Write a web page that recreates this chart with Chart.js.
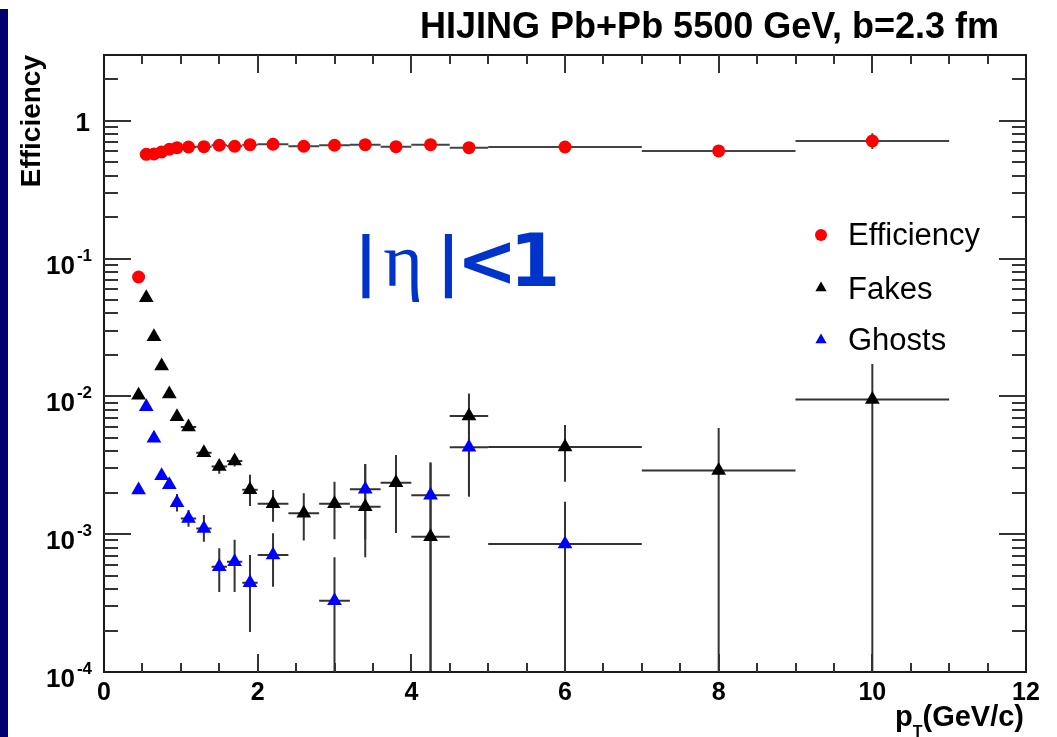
<!DOCTYPE html>
<html>
<head>
<meta charset="utf-8">
<script src="https://cdn.jsdelivr.net/npm/chart.js@4.4.1/dist/chart.umd.min.js"></script>
<style>
  html, body { margin: 0; padding: 0; background: #ffffff; overflow: hidden; }
  canvas { display: block; }
</style>
</head>
<body>
<canvas id="chart" width="1057" height="737"></canvas>
<script>
// pT bins (centre and half width, GeV/c)
const ptCenters = [0.45, 0.55, 0.65, 0.75, 0.85, 0.95, 1.1, 1.3, 1.5, 1.7, 1.9, 2.2, 2.6, 3.0, 3.4, 3.8, 4.25, 4.75, 6, 8, 10];
const ptHalfWidths = [0.05, 0.05, 0.05, 0.05, 0.05, 0.05, 0.1, 0.1, 0.1, 0.1, 0.1, 0.2, 0.2, 0.2, 0.2, 0.2, 0.25, 0.25, 1, 1, 1];

// Efficiency
const effValues = [0.0735, 0.571, 0.574, 0.594, 0.621, 0.638, 0.645, 0.649, 0.664, 0.653, 0.671, 0.675, 0.653, 0.664, 0.671, 0.649, 0.671, 0.638, 0.645, 0.604, 0.713];
const effErrLow = [0.004, 0.005, 0.005, 0.005, 0.005, 0.005, 0.005, 0.005, 0.006, 0.006, 0.006, 0.007, 0.008, 0.009, 0.01, 0.012, 0.015, 0.018, 0.02, 0.03, 0.09];
const effErrHigh = [0.004, 0.005, 0.005, 0.005, 0.005, 0.005, 0.005, 0.005, 0.006, 0.006, 0.006, 0.007, 0.008, 0.009, 0.01, 0.012, 0.015, 0.018, 0.02, 0.03, 0.1];

// Fakes
const fakeValues = [0.0102, 0.052, 0.0271, 0.0166, 0.0104, 0.0071, 0.006, 0.0039, 0.0031, 0.0034, 0.0021, 0.00166, 0.00142, 0.00166, 0.00158, 0.00236, 0.00096, 0.0072, 0.0043, 0.0029, 0.0095];
const fakeErrLow = [0.0003, 0.001, 0.0007, 0.0005, 0.0004, 0.0003, 0.0003, 0.0002, 0.00035, 0.0003, 0.0005, 0.00043, 0.00052, 0.00074, 0.0009, 0.00134, 0.00096, 0.0053, 0.0019, 0.0029, 0.0095];
const fakeErrHigh = [0.0003, 0.001, 0.0007, 0.0005, 0.0004, 0.0003, 0.0003, 0.0002, 0.00025, 0.00025, 0.0006, 0.00043, 0.00056, 0.00074, 0.00165, 0.0014, 0.00231, 0.0033, 0.0019, 0.003, 0.0077];

// Ghosts (null = no entry)
const ghostValues = [0.00209, 0.00842, 0.00497, 0.00266, 0.00228, 0.00169, 0.0013, 0.0011, 0.00058, 0.00063, 0.000445, 0.000706, null, 0.000329, 0.00212, null, 0.00192, 0.00427, 0.000849, null, null];
const ghostErrLow = [0.0001, 0.0003, 0.0002, 0.00015, 0.00015, 0.00023, 0.00017, 0.00022, 0.0002, 0.00025, 0.00025, 0.00029, 0, 0.000329, 0.0012, 0, 0.00192, 0.0024, 0.000849, 0, 0];
const ghostErrHigh = [0.0001, 0.0003, 0.0002, 0.00015, 0.00015, 0.00027, 0.0002, 0.00028, 0.00021, 0.00028, 0.00026, 0.00031, 0, 0.00035, 0.0011, 0, 0.0014, 0.003, 0.00087, 0, 0];

// axis ticks
const xMajorTicks = [0, 2, 4, 6, 8, 10, 12];
const yDecades = [1e-4, 1e-3, 1e-2, 1e-1, 1];
const yDecadeLabels = [["10", "-4"], ["10", "-3"], ["10", "-2"], ["10", "-1"], ["1", ""]];

const seriesList = [
  { label: "Efficiency", values: effValues, lo: effErrLow, hi: effErrHigh, color: "#ff0000", style: "circle", r: 6.5, bar: "#444444" },
  { label: "Fakes", values: fakeValues, lo: fakeErrLow, hi: fakeErrHigh, color: "#000000", style: "triangle", r: 8.5, bar: "#333333" },
  { label: "Ghosts", values: ghostValues, lo: ghostErrLow, hi: ghostErrHigh, color: "#0000ff", style: "triangle", r: 8.5, bar: "#333333" }
];

const SANS = '"Liberation Sans", Arial, Helvetica, sans-serif';

const background = {
  id: "background",
  beforeDraw(chart) {
    const ctx = chart.ctx;
    ctx.save();
    ctx.fillStyle = "#ffffff";
    ctx.fillRect(0, 0, chart.width, chart.height);
    ctx.fillStyle = "#00006e";
    ctx.fillRect(0, 9, 8, chart.height - 9);
    ctx.restore();
  }
};

const errorBars = {
  id: "errorBars",
  beforeDatasetsDraw(chart) {
    const { ctx, chartArea: a } = chart;
    const x = chart.scales.x, y = chart.scales.y;
    ctx.save();
    ctx.beginPath();
    ctx.rect(a.left, a.top, a.right - a.left, a.bottom - a.top);
    ctx.clip();
    ctx.lineWidth = 2;
    seriesList.forEach(s => {
      ctx.strokeStyle = s.bar;
      s.values.forEach((v, i) => {
        if (v == null) return;
        const px = x.getPixelForValue(ptCenters[i]);
        const py = y.getPixelForValue(v);
        const x0 = x.getPixelForValue(ptCenters[i] - ptHalfWidths[i]);
        const x1 = x.getPixelForValue(ptCenters[i] + ptHalfWidths[i]);
        const low = v - s.lo[i];
        const yLo = low > 1e-6 ? y.getPixelForValue(low) : a.bottom;
        const yHi = y.getPixelForValue(v + s.hi[i]);
        ctx.beginPath();
        ctx.moveTo(x0, py); ctx.lineTo(x1, py);
        ctx.moveTo(px, yHi); ctx.lineTo(px, yLo);
        ctx.stroke();
      });
    });
    ctx.restore();
  }
};

function drawMarker(ctx, style, cx, cy, r, color) {
  ctx.fillStyle = color;
  ctx.beginPath();
  if (style === "circle") {
    ctx.arc(cx, cy, r, 0, Math.PI * 2);
  } else {
    ctx.moveTo(cx, cy - r);
    ctx.lineTo(cx + r * 0.866, cy + r * 0.5);
    ctx.lineTo(cx - r * 0.866, cy + r * 0.5);
    ctx.closePath();
  }
  ctx.fill();
}

const frameAndText = {
  id: "frameAndText",
  afterDraw(chart) {
    const { ctx, chartArea: a } = chart;
    const x = chart.scales.x, y = chart.scales.y;
    ctx.save();

    // frame
    ctx.strokeStyle = "#1a1a1a";
    ctx.lineWidth = 2;
    ctx.strokeRect(a.left, a.top, a.right - a.left, a.bottom - a.top);

    // x ticks, bottom and top
    ctx.strokeStyle = "#333333";
    for (let v = 0.5; v < 12; v += 0.5) {
      const px = Math.round(x.getPixelForValue(v));
      const len = (v % 2 === 0) ? 18 : 9;
      ctx.beginPath();
      ctx.moveTo(px, a.bottom); ctx.lineTo(px, a.bottom - len);
      ctx.moveTo(px, a.top); ctx.lineTo(px, a.top + len);
      ctx.stroke();
    }

    // y ticks, left and right
    const yMax = y.max;
    for (let d = -4; d <= 0; d++) {
      for (let m = 1; m <= 9; m++) {
        const v = m * Math.pow(10, d);
        if (v >= yMax || (d === -4 && m === 1)) continue;
        const py = Math.round(y.getPixelForValue(v));
        const len = m === 1 ? 27 : 14;
        ctx.beginPath();
        ctx.moveTo(a.left, py); ctx.lineTo(a.left + len, py);
        ctx.moveTo(a.right, py); ctx.lineTo(a.right - len, py);
        ctx.stroke();
      }
    }

    // x tick labels
    ctx.fillStyle = "#000000";
    ctx.font = "bold 25px " + SANS;
    ctx.textAlign = "center";
    ctx.textBaseline = "alphabetic";
    xMajorTicks.forEach(v => {
      ctx.fillText(String(v), x.getPixelForValue(v), 700);
    });

    // y tick labels
    yDecades.forEach((v, i) => {
      const py = y.getPixelForValue(v);
      const [base, exp] = yDecadeLabels[i];
      const right = 92;
      ctx.textAlign = "left";
      if (exp) {
        ctx.font = "bold 17px " + SANS;
        const wExp = ctx.measureText(exp).width;
        ctx.fillText(exp, right - wExp, py + 2);
        ctx.font = "bold 26px " + SANS;
        const wBase = ctx.measureText(base).width;
        ctx.fillText(base, right - wExp - 2 - wBase, py + 15);
      } else {
        ctx.font = "bold 26px " + SANS;
        const wBase = ctx.measureText(base).width;
        ctx.fillText(base, 90 - wBase, py + 10);
      }
    });

    // y axis title
    ctx.save();
    ctx.translate(40, a.top);
    ctx.rotate(-Math.PI / 2);
    ctx.font = "bold 28px " + SANS;
    ctx.textAlign = "right";
    ctx.fillText("Efficiency", 0, 0);
    ctx.restore();

    // x axis title p_T(GeV/c)
    ctx.font = "bold 29px " + SANS;
    const wP = ctx.measureText("p").width;
    const wRest = ctx.measureText("(GeV/c)").width;
    ctx.font = "bold 16px " + SANS;
    const wT = ctx.measureText("T").width;
    const xt = 1024 - wRest - wT - wP;
    ctx.textAlign = "left";
    ctx.font = "bold 29px " + SANS;
    ctx.fillText("p", xt, 726);
    ctx.font = "bold 16px " + SANS;
    ctx.fillText("T", xt + wP, 737);
    ctx.font = "bold 29px " + SANS;
    ctx.fillText("(GeV/c)", xt + wP + wT, 726);

    // title
    ctx.font = "bold 36px " + SANS;
    ctx.textAlign = "right";
    ctx.fillText("HIJING Pb+Pb 5500 GeV, b=2.3 fm", 999, 38);

    // |eta|<1 label
    ctx.fillStyle = "#0033cc";
    ctx.textAlign = "center";
    ctx.font = "bold 64px 'DejaVu Sans', sans-serif";
    ctx.fillText("|", 366, 283);
    ctx.fillText("|", 448.5, 283);
    ctx.font = "76px 'Liberation Serif', serif";
    ctx.fillText("\u03B7", 403, 286);
    ctx.font = "bold 73px 'DejaVu Sans', sans-serif";
    ctx.fillText("<", 487, 286);
    ctx.fillText("1", 535, 286);

    // legend
    const legendRows = [235, 288, 340];
    const legendText = [245, 299, 350];
    seriesList.forEach((s, i) => {
      drawMarker(ctx, s.style, 821, legendRows[i], s.style === "circle" ? 6 : 6.5, s.color);
      ctx.fillStyle = "#000000";
      ctx.font = "31px " + SANS;
      ctx.textAlign = "left";
      ctx.fillText(s.label, 848, legendText[i]);
    });

    ctx.restore();
  }
};

new Chart(document.getElementById("chart").getContext("2d"), {
  type: "scatter",
  data: {
    datasets: seriesList.map(s => ({
      label: s.label,
      data: ptCenters.map((pt, i) => ({ x: pt, y: s.values[i] })),
      pointStyle: s.style,
      pointRadius: s.r,
      pointBackgroundColor: s.color,
      pointBorderColor: s.color,
      pointBorderWidth: 0,
      showLine: false
    }))
  },
  options: {
    responsive: false,
    animation: false,
    events: [],
    layout: { padding: { left: 104, right: 31, top: 55, bottom: 65 } },
    plugins: {
      legend: { display: false },
      tooltip: { enabled: false }
    },
    scales: {
      x: { type: "linear", min: 0, max: 12, display: false },
      y: { type: "logarithmic", min: 1e-4, max: 3, display: false }
    }
  },
  plugins: [background, errorBars, frameAndText]
});
</script>
</body>
</html>
